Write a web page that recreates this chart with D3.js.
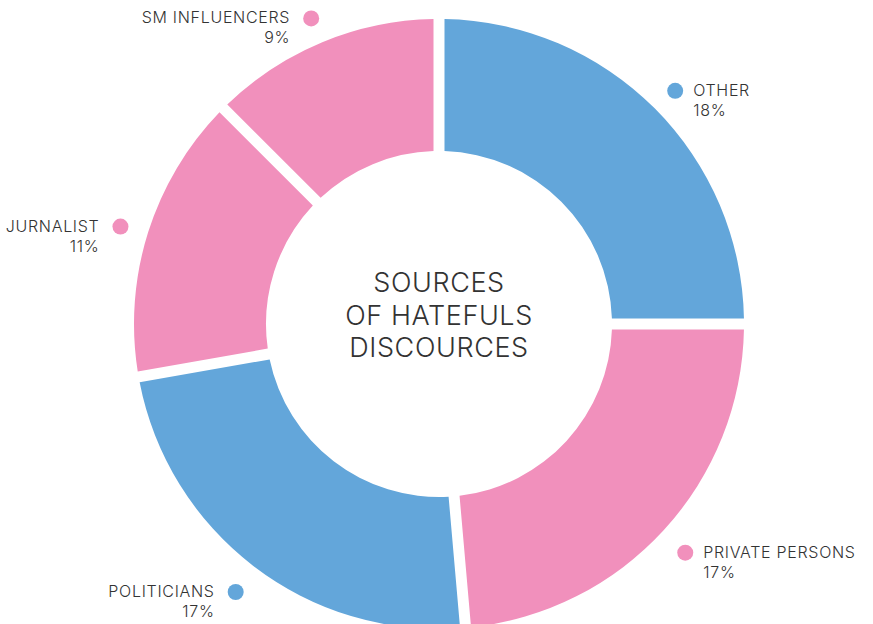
<!DOCTYPE html>
<html>
<head>
<meta charset="utf-8">
<script src="https://cdn.jsdelivr.net/npm/d3@7"></script>
<style>
    html, body { margin: 0; padding: 0; background: #fff; }
    svg text { font-family: Inter, "Open Sans", sans-serif; fill: #333; }
</style>
</head>
<body>
<div id="chart"></div>
<script>
(function () {
    // 数据
    var categories = ['OTHER', 'PRIVATE PERSONS', 'POLITICIANS', 'JURNALIST', 'SM INFLUENCERS']
    var shares = [18, 17, 17, 11, 9]
    var groups = ['other', 'person', 'other', 'person', 'person']
    var titleLines = ['SOURCES', 'OF HATEFULS', 'DISCOURCES']

    var width = 873, height = 624
    var cx = 439, cy = 324
    var outerR = 305, innerR = 173
    var gap = 11
    var labelR = 334

    var color = d3.scaleOrdinal().domain(['other', 'person']).range(['#63a6da', '#f190bc'])

    var svg = d3.select('#chart').append('svg').attr('width', width).attr('height', height)
    var g = svg.append('g').attr('transform', 'translate(' + cx + ',' + cy + ')')

    var pie = d3.pie().sort(null).value(function (d) { return d })
    var arcs = pie(shares)

    var arc = d3.arc()
        .innerRadius(innerR)
        .outerRadius(outerR)
        .padRadius(outerR)
        .padAngle(gap / outerR)

    g.selectAll('path.slice').data(arcs).enter()
        .append('path')
        .attr('class', 'slice')
        .attr('d', arc)
        .attr('fill', function (d, i) { return color(groups[i]) })

    // 标签
    var labels = g.selectAll('g.label').data(arcs).enter()
        .append('g')
        .attr('class', 'label')
        .attr('transform', function (d) {
            var a = (d.startAngle + d.endAngle) / 2
            return 'translate(' + (labelR * Math.sin(a)) + ',' + (-labelR * Math.cos(a) + 3) + ')'
        })
    labels.append('circle')
        .attr('r', 8)
        .attr('fill', function (d, i) { return color(groups[i]) })
    labels.each(function (d, i) {
        var a = (d.startAngle + d.endAngle) / 2
        var right = Math.sin(a) > 0
        var sel = d3.select(this)
        var x = right ? 18 : -21
        var anchor = right ? 'start' : 'end'
        sel.append('text').attr('x', x).attr('y', 5)
            .attr('text-anchor', anchor)
            .style('font-size', '16px').style('font-weight', 300)
            .style('letter-spacing', '0.7px')
            .text(categories[i])
        sel.append('text').attr('x', x).attr('y', 25)
            .attr('text-anchor', anchor)
            .style('font-size', '16px').style('font-weight', 300)
            .style('letter-spacing', '0.7px')
            .text(shares[i] + '%')
    })

    // 中间标题
    g.selectAll('text.title').data(titleLines).enter()
        .append('text')
        .attr('class', 'title')
        .attr('text-anchor', 'middle')
        .attr('x', 0)
        .attr('y', function (d, i) { return -32 + i * 32.5 })
        .style('font-size', '27px').style('font-weight', 300)
        .style('letter-spacing', '0.6px')
        .text(function (d) { return d })
}).call(this)
</script>
</body>
</html>
